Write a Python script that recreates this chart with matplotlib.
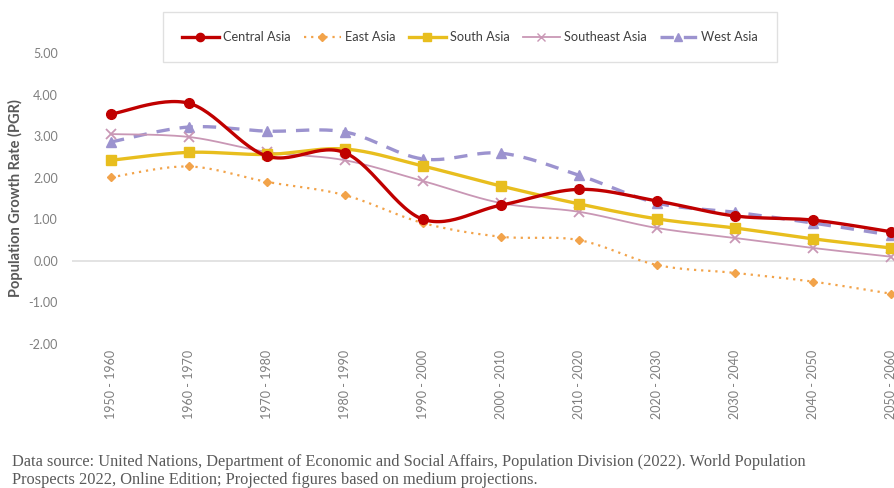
import numpy as np
import matplotlib
matplotlib.use("Agg")
import matplotlib.pyplot as plt
from matplotlib.lines import Line2D

# Population growth rate by Asian sub-region, per decade
periods = ["1950 - 1960", "1960 - 1970", "1970 - 1980", "1980 - 1990", "1990 - 2000",
           "2000 - 2010", "2010 - 2020", "2020 - 2030", "2030 - 2040", "2040 - 2050",
           "2050 - 2060"]
central_asia = [3.53, 3.79, 2.52, 2.60, 1.00, 1.34, 1.72, 1.44, 1.08, 0.98, 0.70]
east_asia = [2.01, 2.27, 1.90, 1.58, 0.91, 0.58, 0.50, -0.10, -0.29, -0.50, -0.79]
south_asia = [2.42, 2.61, 2.56, 2.69, 2.28, 1.80, 1.37, 1.01, 0.79, 0.53, 0.31]
southeast_asia = [3.05, 2.98, 2.62, 2.42, 1.92, 1.39, 1.18, 0.79, 0.55, 0.31, 0.10]
west_asia = [2.86, 3.22, 3.12, 3.10, 2.45, 2.59, 2.06, 1.39, 1.17, 0.91, 0.62]


def smooth(y, n=30):
    # Catmull-Rom style curve through the points (like a "smoothed line" chart)
    y = np.asarray(y, dtype=float)
    x = np.arange(len(y), dtype=float)
    xs, ys = [], []
    for i in range(len(y) - 1):
        p0 = np.array([x[max(i - 1, 0)], y[max(i - 1, 0)]])
        p1 = np.array([x[i], y[i]])
        p2 = np.array([x[i + 1], y[i + 1]])
        p3 = np.array([x[min(i + 2, len(y) - 1)], y[min(i + 2, len(y) - 1)]])
        c1 = p1 + (p2 - p0) / 6.0
        c2 = p2 - (p3 - p1) / 6.0
        t = np.linspace(0, 1, n)[:, None]
        pts = ((1 - t) ** 3) * p1 + 3 * ((1 - t) ** 2) * t * c1 + 3 * (1 - t) * t ** 2 * c2 + t ** 3 * p2
        xs.extend(pts[:, 0])
        ys.extend(pts[:, 1])
    return np.array(xs), np.array(ys)


plt.rcParams['font.family'] = ['Lato', 'DejaVu Sans']

fig = plt.figure(figsize=(8.95, 4.88), dpi=100)
W, H = 895, 488
ax = fig.add_axes([72 / W, (H - 344) / H, (930 - 72) / W, (344 - 53) / H])

series = [
    ("Central Asia", central_asia, dict(color="#C00000", lw=2.4, ls="-", marker="o", ms=7)),
    ("East Asia", east_asia, dict(color="#F2A34A", lw=1.6, ls=(0, (1, 2.2)), marker="D", ms=4.5)),
    ("South Asia", south_asia, dict(color="#E8BE1E", lw=2.4, ls="-", marker="s", ms=7)),
    ("Southeast Asia", southeast_asia, dict(color="#C997B5", lw=1.3, ls="-", marker="x", ms=6.5)),
    ("West Asia", west_asia, dict(color="#9C93CF", lw=2.4, ls=(0, (4, 3)), marker="^", ms=7.5)),
]

x = np.arange(len(periods))
ax.axhline(0, color="#dedede", lw=1.2, zorder=1)
handles = []
for i, (name, vals, st) in enumerate(series):
    sx, sy = smooth(vals)
    z = 3 + (4 - i) * 0.1 if name != "Central Asia" else 4
    ax.plot(sx, sy, color=st["color"], lw=st["lw"], ls=st["ls"], zorder=z)
    ax.plot(x, vals, ls="none", marker=st["marker"], ms=st["ms"], color=st["color"],
            mec=st["color"], mew=1.3 if st["marker"] == "x" else 1, zorder=z)
    handles.append(Line2D([], [], color=st["color"], lw=st["lw"], ls=st["ls"],
                          marker=st["marker"], ms=st["ms"] * 0.85, label=name))

ax.set_xlim(-0.5, len(periods) - 0.5)
ax.set_ylim(-2, 5)
ax.set_yticks(np.arange(-2, 6, 1))
ax.set_yticklabels([f"{v:.2f}" for v in np.arange(-2, 6, 1)])
ax.set_xticks(x)
ax.set_xticklabels(periods, rotation=90)
ax.tick_params(axis="both", length=0, colors="#7f7f7f", labelsize=9)
ax.tick_params(axis="x", pad=4)
ax.tick_params(axis="y", pad=10)
for s in ax.spines.values():
    s.set_visible(False)
ax.set_ylabel("Population Growth Rate (PGR)", fontsize=10.5, fontweight="bold",
              color="#595959")
ax.yaxis.set_label_coords((23 - 72) / (930 - 72), 0.5)

leg = fig.legend(handles=handles, loc="center", bbox_to_anchor=(470 / W, 1 - 37 / H),
                 ncol=5, frameon=True, fontsize=9.2, handlelength=2.9, columnspacing=1.0,
                 handletextpad=0.35, borderpad=1.5, fancybox=False)
leg.get_frame().set_edgecolor("#d9d9d9")
leg.get_frame().set_linewidth(1.0)
for t in leg.get_texts():
    t.set_color("#404040")

fig.text(12 / W, 1 - 471 / H,
         "Data source: United Nations, Department of Economic and Social Affairs, Population Division (2022). World Population\n"
         "Prospects 2022, Online Edition; Projected figures based on medium projections.",
         fontsize=11.8, color="#595959", va="center", ha="left", linespacing=1.12,
         family=["Liberation Serif", "DejaVu Serif"])

fig.savefig("out.png", dpi=100)
